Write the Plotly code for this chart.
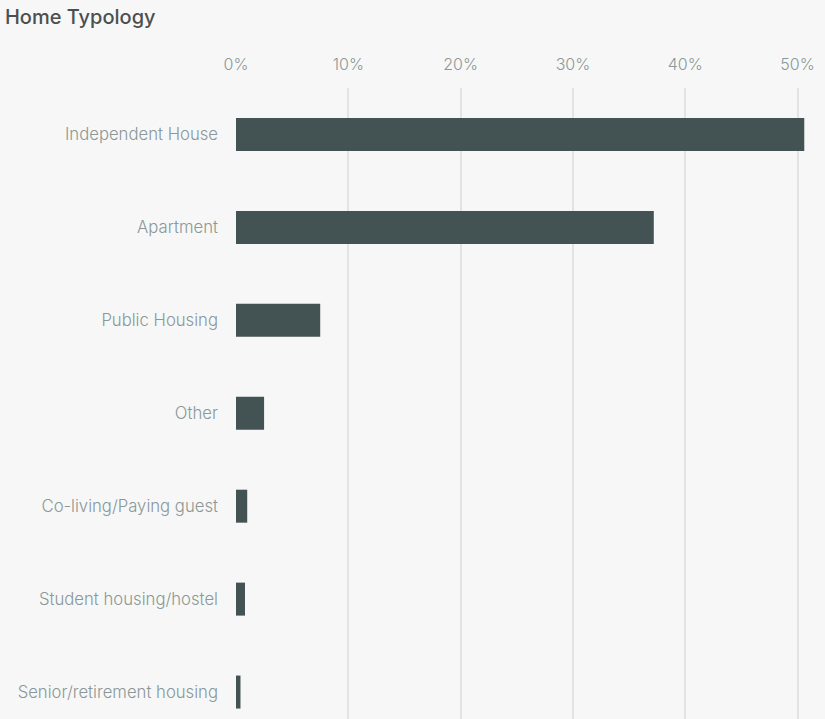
import plotly.graph_objects as go

categories = ["Independent House", "Apartment", "Public Housing", "Other",
              "Co-living/Paying guest", "Student housing/hostel", "Senior/retirement housing"]
values = [50.6, 37.2, 7.5, 2.5, 1.0, 0.8, 0.4]
tick_vals = [0, 10, 20, 30, 40, 50]
tick_text = ["0%", "10%", "20%", "30%", "40%", "50%"]

fig = go.Figure(go.Bar(
    x=values, y=categories, orientation="h",
    marker=dict(color="#435353", line=dict(width=0)),
    width=0.355, hoverinfo="skip",
))

fig.update_layout(
    width=825, height=719,
    paper_bgcolor="#f7f7f7", plot_bgcolor="#f7f7f7",
    margin=dict(l=236, r=5, t=87.5, b=0),
    font=dict(family="Inter, Roboto, sans-serif", color="#8a9898", size=16),
    title=dict(text="Home Typology", x=0.006, xanchor="left", y=0.976, yanchor="middle",
               font=dict(size=20, color="#4a5050", family="Inter, Roboto, sans-serif", weight=500)),
    showlegend=False,
)
fig.update_xaxes(
    side="top", range=[0, 52.0], tickvals=tick_vals, ticktext=tick_text,
    showgrid=True, gridcolor="#e3e3e3", gridwidth=2, zeroline=False,
    showline=False, ticks="", ticklabelstandoff=14,
    tickfont=dict(size=16, color="#8a9898", weight=300), fixedrange=True,
)
fig.update_yaxes(
    range=[6.29, -0.5], showgrid=False, zeroline=False, showline=False,
    ticks="", ticklabelstandoff=17, tickfont=dict(size=16.7, color="#8a9898", weight=300), fixedrange=True,
)

fig.write_html(
    "out.html",
    config={"displayModeBar": False},
    post_script="document.body.style.margin='0';document.body.style.background='#f7f7f7';",
)
